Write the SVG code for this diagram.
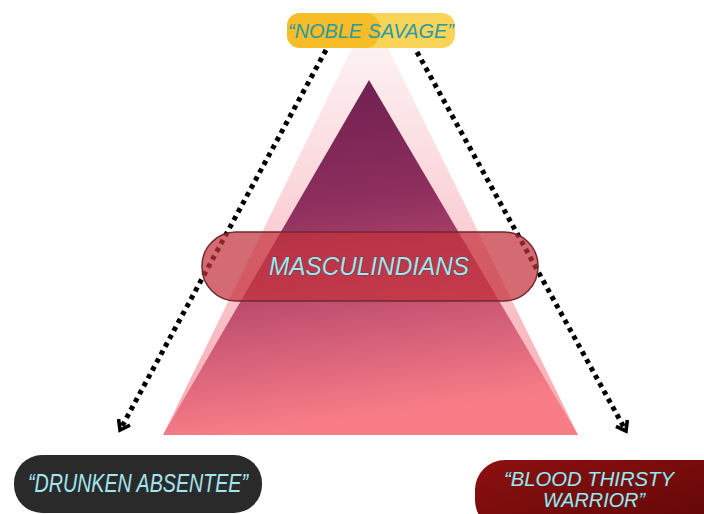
<svg xmlns="http://www.w3.org/2000/svg" width="704" height="514" viewBox="0 0 704 514">
<defs>
<linearGradient id="gMain" x1="0" y1="0" x2="0.15" y2="1">
<stop offset="0" stop-color="#6a1d4e"/>
<stop offset="0.4" stop-color="#8e2f5e"/>
<stop offset="0.72" stop-color="#c95674"/>
<stop offset="1" stop-color="#f87d87"/>
</linearGradient>
<linearGradient id="gPale" x1="0" y1="0" x2="0" y2="1">
<stop offset="0" stop-color="#fdeef0"/>
<stop offset="0.5" stop-color="#f9c4ca"/>
<stop offset="1" stop-color="#f79aa4"/>
</linearGradient>
<linearGradient id="gRed" x1="0" y1="0" x2="1" y2="1">
<stop offset="0" stop-color="#8e1010"/>
<stop offset="1" stop-color="#5e0606"/>
</linearGradient>
<marker id="chev" viewBox="0 0 16 16" refX="12" refY="8" markerWidth="16" markerHeight="16" markerUnits="userSpaceOnUse" orient="auto">
<path d="M3,1.5 L12,8 L3,14.5" fill="none" stroke="#000" stroke-width="3.6" stroke-dasharray="none" stroke-linejoin="miter"/>
</marker>
<style>
.lbl{font-family:"Liberation Sans",Arial,sans-serif;font-style:italic;text-anchor:middle}
.cy{fill:#a6e4ec;stroke:#1d3d44;stroke-width:0.6;paint-order:stroke}
.dot{fill:none;stroke:#000;stroke-width:5;stroke-dasharray:4.5 4.5}
</style>
</defs>
<rect width="704" height="514" fill="#ffffff"/>

<g id="pyramid">
<polygon points="352,48 388,48 578,435 163,435" fill="url(#gPale)" opacity="0.85"/>
<polygon points="369,80 578,435 163,435" fill="url(#gMain)"/>
</g>

<g id="connectors">
<line class="dot" x1="326" y1="50" x2="120" y2="430" marker-end="url(#chev)"/>
<line class="dot" x1="417" y1="52" x2="626" y2="431" marker-end="url(#chev)"/>
</g>

<g id="masculindians">
<rect x="202" y="232" width="336" height="69" rx="34" fill="#c4303c" fill-opacity="0.72" stroke="#6e2a30" stroke-width="1.5"/>
<text class="lbl cy" x="369" y="275" font-size="26" textLength="200" lengthAdjust="spacingAndGlyphs">MASCULINDIANS</text>
</g>

<g id="noble-savage">
<rect x="287" y="13" width="168" height="35" rx="13" fill="#f9d458"/>
<rect x="287" y="13" width="92" height="35" rx="13" fill="#f6bd28"/>
<text class="lbl" x="371" y="38" font-size="21" fill="#2a9aa2" textLength="166" lengthAdjust="spacingAndGlyphs">“NOBLE SAVAGE”</text>
</g>

<g id="drunken-absentee">
<rect x="14" y="455" width="248" height="58" rx="28" fill="#2a2a2a"/>
<text class="lbl cy" x="138" y="492" font-size="25" textLength="220" lengthAdjust="spacingAndGlyphs">“DRUNKEN ABSENTEE”</text>
</g>

<g id="blood-thirsty-warrior">
<rect x="475" y="460" width="260" height="70" rx="30" fill="url(#gRed)"/>
<text class="lbl cy" x="589" y="486" font-size="21" textLength="170" lengthAdjust="spacingAndGlyphs">“BLOOD THIRSTY</text>
<text class="lbl cy" x="594" y="507" font-size="21" textLength="102" lengthAdjust="spacingAndGlyphs">WARRIOR”</text>
</g>
</svg>
